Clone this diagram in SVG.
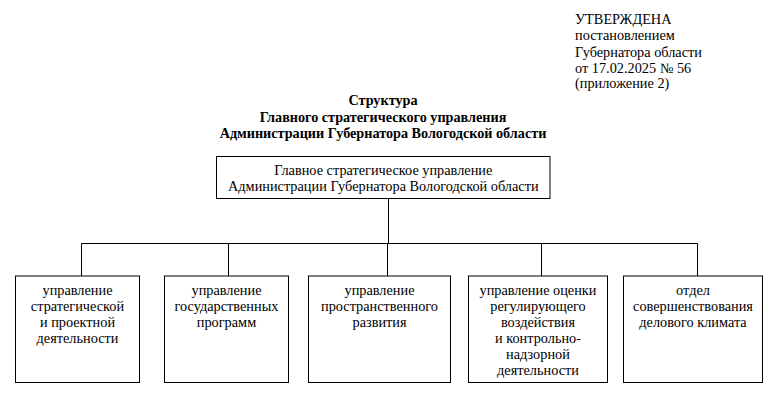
<svg xmlns="http://www.w3.org/2000/svg" width="776" height="400" viewBox="0 0 776 400">
<style>
text{font-family:"Liberation Serif","Times New Roman",serif;font-size:14.3px;fill:#000}
.c{text-anchor:middle}
.b{font-weight:bold;font-size:14.2px}
.box{fill:#fff;stroke:#000;stroke-width:1}
.ln{stroke:#000;stroke-width:1;fill:none}
</style>
<rect width="776" height="400" fill="#fff"/>
<g id="approval">
<text x="575" y="24.3">УТВЕРЖДЕНА</text>
<text x="575" y="39.5">постановлением</text>
<text x="575" y="56.5">Губернатора области</text>
<text x="575" y="72.5">от 17.02.2025 № 56</text>
<text x="575" y="88.3">(приложение 2)</text>
</g>
<g id="title">
<text class="c b" x="383" y="105">Структура</text>
<text class="c b" x="383" y="121.5">Главного стратегического управления</text>
<text class="c b" x="383" y="138">Администрации Губернатора Вологодской области</text>
</g>
<g id="connectors">
<path class="ln" d="M388.5 198.5V243.5M81.5 276V243.5H697.5V276M228.5 243.5V276M387.5 243.5V276M541.5 243.5V276"/>
</g>
<g id="main">
<rect class="box" x="216.5" y="156.5" width="333.5" height="42"/>
<text class="c" x="383.3" y="175">Главное стратегическое управление</text>
<text class="c" x="383.3" y="191">Администрации Губернатора Вологодской области</text>
</g>
<g id="n1">
<rect class="box" x="15.5" y="276" width="124" height="106.5"/>
<text class="c" x="77.5" y="294.5">управление</text>
<text class="c" x="77.5" y="310.5">стратегической</text>
<text class="c" x="77.5" y="326.5">и проектной</text>
<text class="c" x="77.5" y="342.5">деятельности</text>
</g>
<g id="n2">
<rect class="box" x="164.5" y="276" width="124" height="106.5"/>
<text class="c" x="226.5" y="294.5">управление</text>
<text class="c" x="226.5" y="310.5">государственных</text>
<text class="c" x="226.5" y="326.5">программ</text>
</g>
<g id="n3">
<rect class="box" x="308.5" y="276" width="142" height="106.5"/>
<text class="c" x="379.5" y="294.5">управление</text>
<text class="c" x="379.5" y="310.5">пространственного</text>
<text class="c" x="379.5" y="326.5">развития</text>
</g>
<g id="n4">
<rect class="box" x="468.5" y="276" width="139" height="106.5"/>
<text class="c" x="538" y="294.5">управление оценки</text>
<text class="c" x="538" y="310.5">регулирующего</text>
<text class="c" x="538" y="326.5">воздействия</text>
<text class="c" x="538" y="342.5">и контрольно-</text>
<text class="c" x="538" y="358.5">надзорной</text>
<text class="c" x="538" y="374.5">деятельности</text>
</g>
<g id="n5">
<rect class="box" x="623.5" y="276" width="139" height="106.5"/>
<text class="c" x="693" y="294.5">отдел</text>
<text class="c" x="693" y="310.5">совершенствования</text>
<text class="c" x="693" y="326.5">делового климата</text>
</g>
</svg>
